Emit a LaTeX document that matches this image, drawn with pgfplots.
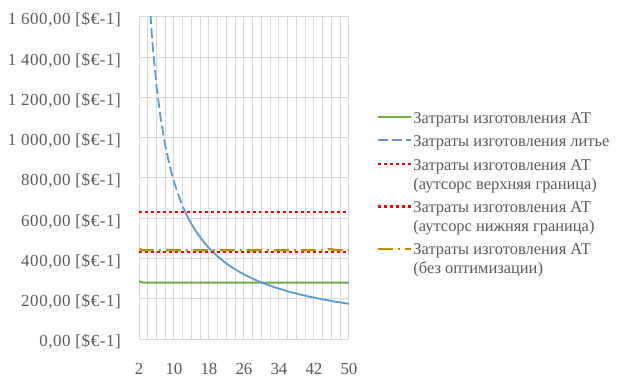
\documentclass[border=0pt]{standalone}
\usepackage{pgfplots}
\pgfplotsset{compat=1.18}
\usepackage{pgfplotstable}
\usepackage{fontspec}
\setmainfont{Liberation Serif}
\newfontfamily\ylabfont[LetterSpace=3.5]{Liberation Serif}
\definecolor{txtgray}{HTML}{595959}
\definecolor{gridgray}{HTML}{D9D9D9}
\definecolor{cgreen}{HTML}{70AD47}
\definecolor{cblue}{HTML}{5B9BD5}
\definecolor{cred}{HTML}{FF0000}
\definecolor{cgold}{HTML}{BF9000}

\pgfplotstableread{
x green blue redU redL orange
2 287 3491 632 432 447
3 280 2394 632 432 441
4 280 1832 632 432 441
5 280 1488 632 432 441
6 280 1256 632 432 441
7 280 1089 632 432 441
8 280 961 632 432 441
9 280 862 632 432 441
10 280 781 632 432 441
11 280 715 632 432 441
12 280 659 632 432 441
13 280 612 632 432 441
14 280 571 632 432 441
15 280 536 632 432 441
16 280 505 632 432 441
17 280 477 632 432 441
18 280 452 632 432 441
19 280 430 632 432 441
20 280 410 632 432 441
21 280 392 632 432 441
22 280 375 632 432 441
23 280 360 632 432 441
24 280 346 632 432 441
25 280 333 632 432 441
26 280 321 632 432 441
27 280 310 632 432 441
28 280 300 632 432 441
29 280 290 632 432 441
30 280 281 632 432 441
31 280 273 632 432 441
32 280 265 632 432 441
33 280 257 632 432 441
34 280 250 632 432 441
35 280 244 632 432 441
36 280 237 632 432 441
37 280 231 632 432 441
38 280 226 632 432 441
39 280 220 632 432 441
40 280 215 632 432 441
41 280 210 632 432 441
42 280 206 632 432 441
43 280 201 632 432 441
44 280 197 632 432 441
45 280 193 632 432 446
46 280 189 632 432 446
47 280 185 632 432 441
48 280 182 632 432 441
49 280 178 632 432 441
50 280 175 632 432 441
}\datatable

\newcommand{\hs}{\rule{0pt}{14bp}}
\newcommand{\ds}{\rule[-5bp]{0pt}{5bp}}

\begin{document}
\begin{tikzpicture}
\useasboundingbox (0,0) rectangle (624bp,379bp);
\begin{axis}[
  at={(139bp,40bp)}, anchor=south west,
  scale only axis, width=210bp, height=322bp,
  xmin=2, xmax=50, ymin=0, ymax=1600,
  xtick={2,10,...,50},
  minor xtick={4,6,...,48},
  ytick={0,200,...,1600},
  yticklabels={{0,00 [\$€-1]},{200,00 [\$€-1]},{400,00 [\$€-1]},{600,00 [\$€-1]},{800,00 [\$€-1]},{1 000,00 [\$€-1]},{1 200,00 [\$€-1]},{1 400,00 [\$€-1]},{1 600,00 [\$€-1]}},
  xmajorgrids, xminorgrids, ymajorgrids,
  grid style={draw=gridgray, line width=1bp},
  minor grid style={draw=gridgray, line width=1bp},
  axis line style={draw=gridgray, line width=1bp},
  x axis line style={draw=gridgray!85!black},
  major tick length=0pt, minor tick length=0pt,
  tick style={draw=none},
  font=\fontsize{17}{20}\selectfont,
  /pgf/number format/assume math mode=true,
  ticklabel style={text=txtgray, font=\fontsize{17}{20}\selectfont},
  yticklabel style={anchor=east, inner sep=0pt, xshift=-18bp, yshift=-3bp, font=\ylabfont\fontsize{17}{20}\selectfont},
  xticklabel style={anchor=north, inner sep=0pt, yshift=-24bp},
  legend style={at={(1.133,0.717)}, anchor=north west, draw=none, fill=none,
    inner sep=0pt, outer sep=0pt,
    text=txtgray, font=\fontsize{16.5}{19}\selectfont,
    cells={anchor=west, align=left}, row sep=6bp,
    nodes={inner sep=1bp}},
  legend image code/.code={\draw[#1] (0bp,0bp) -- (33bp,0bp);},
  every axis plot/.append style={line cap=butt},
]
\addplot[cgreen, line width=2bp] table[x=x, y=green] {\datatable};
\addlegendentry{\hs Затраты изготовления АТ\ds}
\addplot[cblue, line width=1.8bp, dash pattern=on 10bp off 4bp, restrict x to domain=2:13] table[x=x, y=blue] {\datatable};
\addlegendentry{\hs Затраты изготовления литье\ds}
\addplot[cblue, line width=1.8bp, restrict x to domain=13:50, forget plot] table[x=x, y=blue] {\datatable};
\addplot[cred, line width=2.5bp, dash pattern=on 2.5bp off 3.5bp, legend image post style={yshift=9.5bp}] table[x=x, y=redU] {\datatable};
\addlegendentry{\hs Затраты изготовления АТ\\(аутсорс верхняя граница)\ds}
\addplot[cred, line width=2.5bp, dash pattern=on 2.5bp off 3.5bp, legend image post style={yshift=9.5bp}] table[x=x, y=redL] {\datatable};
\addlegendentry{\hs Затраты изготовления АТ\\(аутсорс нижняя граница)\ds}
\addplot[cgold, line width=2.2bp, dash pattern=on 15bp off 5bp on 2bp off 5bp, legend image post style={yshift=9.5bp}] table[x=x, y=orange] {\datatable};
\addlegendentry{\hs Затраты изготовления АТ\\(без оптимизации)\ds}
\end{axis}
\end{tikzpicture}
\end{document}
